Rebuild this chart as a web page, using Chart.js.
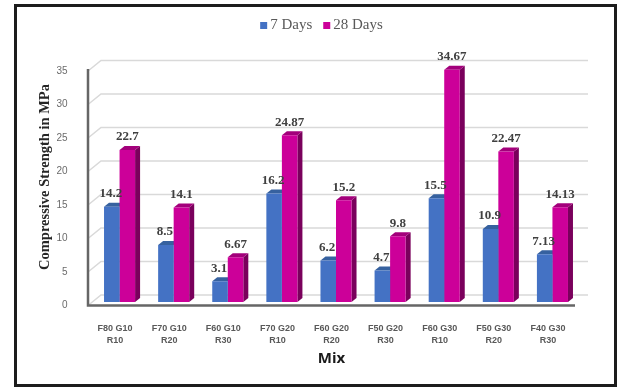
<!DOCTYPE html>
<html><head><meta charset="utf-8">
<script src="https://cdn.jsdelivr.net/npm/chart.js@4.4.0/dist/chart.umd.min.js"></script>
<style>
html,body{margin:0;padding:0;background:#fff;width:617px;height:387px;overflow:hidden}
#wrap{position:absolute;left:0;top:0;width:617px;height:387px}
#frame{position:absolute;left:14px;top:4px;width:603px;height:383px;box-sizing:border-box;border:3px solid #1c1c1c;pointer-events:none}
</style></head><body>
<div id="wrap"><canvas id="c" width="617" height="387"></canvas></div>
<div id="frame"></div>
<script>
const categories = [["F80 G10","R10"],["F70 G10","R20"],["F60 G10","R30"],["F70 G20","R10"],["F60 G20","R20"],["F50 G20","R30"],["F60 G30","R10"],["F50 G30","R20"],["F40 G30","R30"]];
const days7 = [14.2, 8.5, 3.1, 16.2, 6.2, 4.7, 15.5, 10.9, 7.13];
const days28 = [22.7, 14.1, 6.67, 24.87, 15.2, 9.8, 34.67, 22.47, 14.13];
const seriesNames = ["7 Days", "28 Days"];
const yMin = 0, yMax = 35, yStep = 5;
const yTitle = "Compressive Strength in MPa";
const xTitle = "Mix";

const FRONT = ['#4472C4', '#CC0099'];
const SIDE = ['#2E5597', '#7A005C'];
const TOP = ['#36619F', '#A3007B'];
const DX = 5, DY = 4;

function drawLabels(chart, di) {
  const ctx = chart.ctx;
  ctx.save();
  ctx.font = 'bold 13px "Liberation Serif"';
  ctx.fillStyle = '#404040';
  ctx.textAlign = 'center';
  ctx.textBaseline = 'middle';
  const vals = chart.data.datasets[di].data;
  chart.getDatasetMeta(di).data.forEach((bar, i) => {
    const p = bar.getProps(['x', 'y'], true);
    ctx.fillText(String(vals[i]), p.x - (di === 0 ? 1 : 0), p.y - 13);
  });
  ctx.restore();
}

const deco = {
  id: 'deco',
  beforeDatasetsDraw(chart) {
    const ctx = chart.ctx, ca = chart.chartArea, ys = chart.scales.y;
    ctx.save();
    ctx.strokeStyle = '#d9d9d9';
    ctx.lineWidth = 1.5;
    ys.ticks.forEach(t => {
      const py = ys.getPixelForValue(t.value);
      ctx.beginPath();
      ctx.moveTo(ca.left - 4.5, py + 3.5);
      ctx.lineTo(ca.left + 8.5, py - 7);
      ctx.lineTo(ca.right + 8.5, py - 7);
      ctx.stroke();
    });
    chart.data.datasets.forEach((ds, di) => {
      chart.getDatasetMeta(di).data.forEach(bar => {
        const p = bar.getProps(['x', 'y', 'base', 'width'], true);
        const l = p.x - p.width / 2, r = p.x + p.width / 2;
        ctx.fillStyle = SIDE[di];
        ctx.beginPath();
        ctx.moveTo(r, p.y); ctx.lineTo(r + DX, p.y - DY); ctx.lineTo(r + DX, p.base - DY); ctx.lineTo(r, p.base);
        ctx.closePath(); ctx.fill();
        ctx.fillStyle = TOP[di];
        ctx.beginPath();
        ctx.moveTo(l, p.y); ctx.lineTo(l + DX, p.y - DY); ctx.lineTo(r + DX, p.y - DY); ctx.lineTo(r, p.y);
        ctx.closePath(); ctx.fill();
      });
    });
    ctx.restore();
  },
  afterDatasetsDraw(chart) {
    drawLabels(chart, 0);
    drawLabels(chart, 1);
    const ctx = chart.ctx, ca = chart.chartArea, ys = chart.scales.y;
    ctx.save();
    ctx.strokeStyle = '#666666';
    ctx.lineWidth = 2.5;
    const x0 = ca.left - 4.5, yb = ys.getPixelForValue(yMin) + 3.5, yt = ys.getPixelForValue(yMax) + 3.5;
    ctx.beginPath();
    ctx.moveTo(x0, yt - 2); ctx.lineTo(x0, yb);
    ctx.lineTo(ca.right - 4.5, yb);
    ctx.stroke();
    ctx.restore();
  },
  afterDraw(chart) {
    const ctx = chart.ctx, ca = chart.chartArea;
    ctx.save();
    // legend
    ctx.font = '15px "Liberation Serif"';
    ctx.textBaseline = 'middle';
    ctx.textAlign = 'left';
    const box = 7, gap = 3, itemGap = 11;
    const items = chart.data.datasets.map(d => ({ t: d.label, c: d.backgroundColor, w: ctx.measureText(d.label).width }));
    let total = items.reduce((s, it) => s + box + gap + it.w, 0) + itemGap * (items.length - 1);
    let x = 321.5 - total / 2;
    const cy = 25.5;
    items.forEach(it => {
      ctx.fillStyle = it.c;
      ctx.fillRect(x, cy - box / 2, box, box);
      ctx.fillStyle = '#595959';
      ctx.fillText(it.t, x + box + gap, cy);
      x += box + gap + it.w + itemGap;
    });
    // y title
    ctx.save();
    ctx.translate(45, 177);
    ctx.rotate(-Math.PI / 2);
    ctx.font = 'bold 14.5px "Liberation Serif"';
    ctx.fillStyle = '#262626';
    ctx.textAlign = 'center';
    ctx.textBaseline = 'middle';
    ctx.fillText(yTitle, 0, 0);
    ctx.restore();
    // x title
    ctx.font = 'bold 15px "Open Sans"';
    ctx.fillStyle = '#1a1a1a';
    ctx.textAlign = 'center';
    ctx.textBaseline = 'middle';
    ctx.fillText(xTitle, (ca.left + ca.right) / 2 - 4.5, 359);
    ctx.restore();
  }
};

new Chart(document.getElementById('c'), {
  type: 'bar',
  data: {
    labels: categories,
    datasets: [
      { label: seriesNames[0], data: days7, backgroundColor: FRONT[0], borderWidth: 0 },
      { label: seriesNames[1], data: days28, backgroundColor: FRONT[1], borderWidth: 0 }
    ]
  },
  options: {
    responsive: false,
    animation: false,
    devicePixelRatio: 1,
    layout: { padding: { left: 0, right: 37.5, top: 67.5, bottom: 0 } },
    datasets: { bar: { categoryPercentage: 0.574, barPercentage: 1.0 } },
    plugins: { legend: { display: false }, tooltip: { enabled: false } },
    scales: {
      x: {
        grid: { display: false },
        border: { display: false },
        ticks: {
          padding: 12, labelOffset: -4.5, maxRotation: 0, autoSkip: false,
          color: '#595959',
          font: { family: 'Liberation Sans', size: 9, weight: 'bold', lineHeight: 1.39 }
        },
        afterFit(s) { s.height = 85; }
      },
      y: {
        min: yMin, max: yMax,
        grid: { display: false },
        border: { display: false },
        ticks: {
          stepSize: yStep, padding: 17, labelOffset: 3.5,
          color: '#6b6b6b',
          font: { family: 'Liberation Sans', size: 10 }
        },
        afterFit(s) { s.width = 92.5; }
      }
    }
  },
  plugins: [deco]
});
</script>
</body></html>
